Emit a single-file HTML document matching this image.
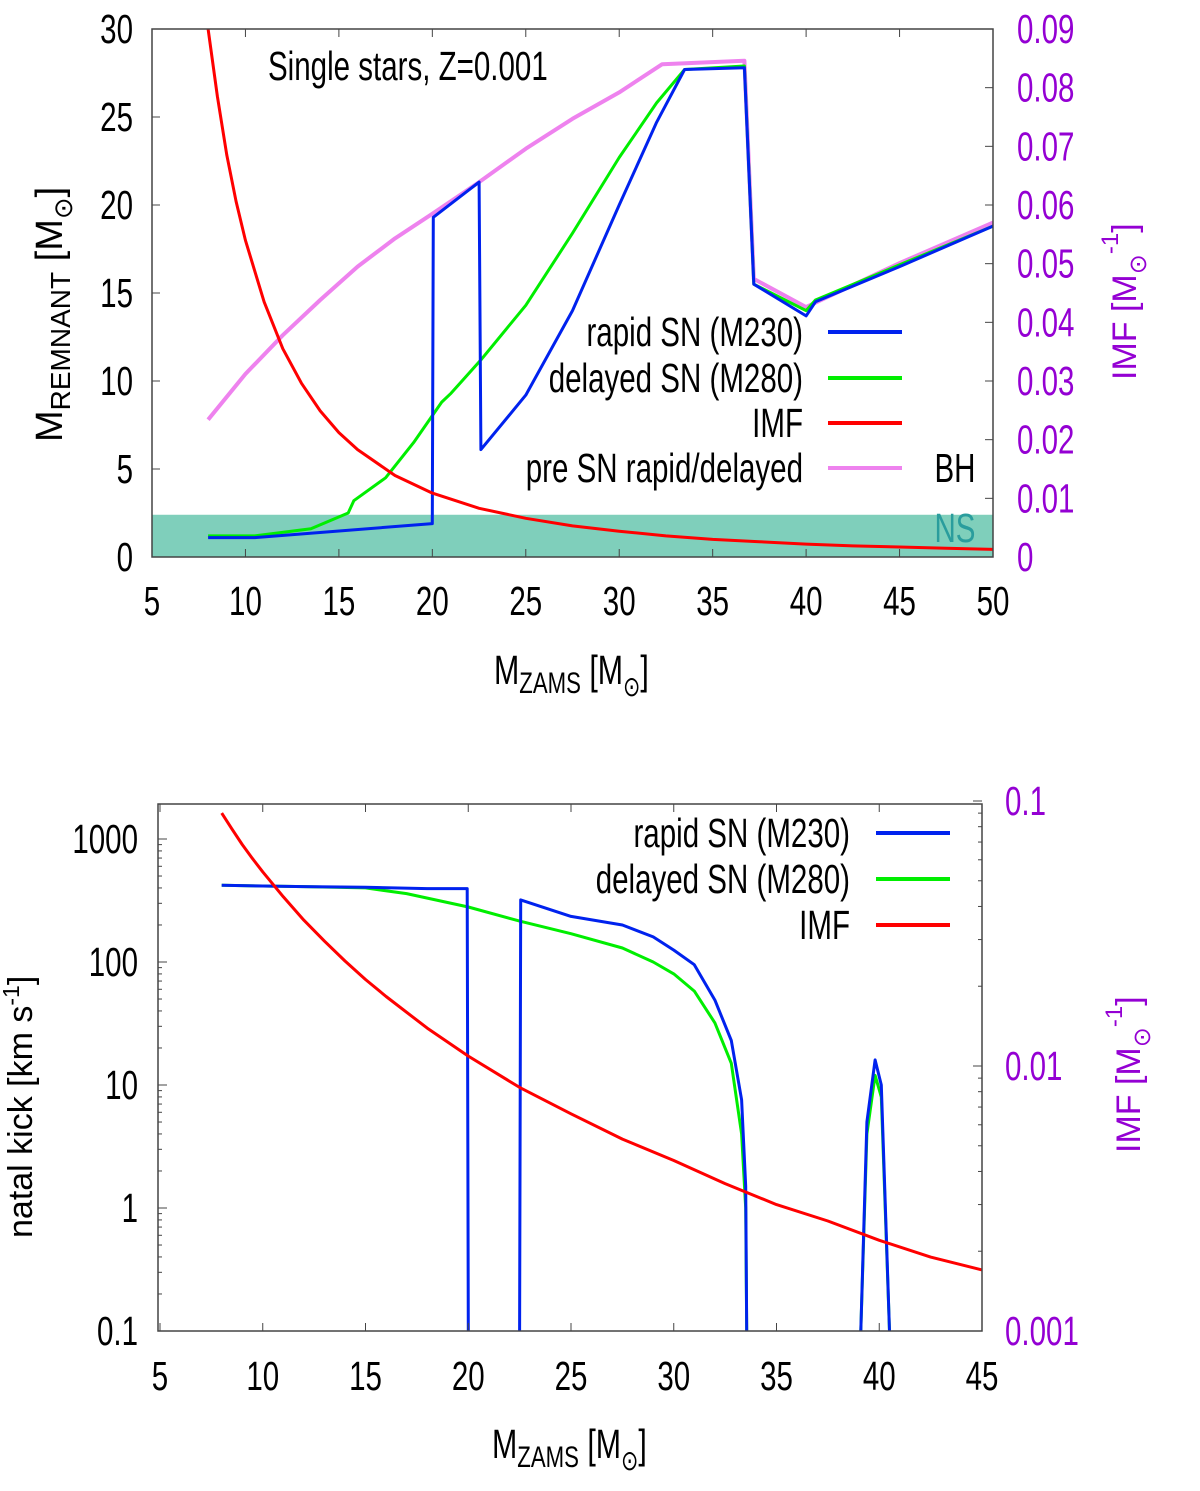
<!DOCTYPE html>
<html><head><meta charset="utf-8"><style>
body{margin:0;background:#fff}
svg text{font-family:"Liberation Sans",sans-serif}
</style></head><body>
<svg id="s" width="1200" height="1486" viewBox="0 0 1200 1486" xmlns="http://www.w3.org/2000/svg"></svg>
<script>
// ---- data ----
const imfMass = [8,8.5,9,9.5,10,11,12,13,14,15,16,18,20,22.5,25,27.5,30,32.5,35,37.5,40,42.5,45,47.5,50];
const imfVal = [0.090,0.0785,0.0685,0.0606,0.0540,0.0435,0.0355,0.0296,0.0249,0.0212,0.0183,0.0139,0.0109,0.0083,0.0066,0.0053,0.0044,0.0036,0.0030,0.0026,0.0022,0.0019,0.0017,0.0015,0.0013];
const rapidMass = [8,10.5,20,20.05,22.5,22.6,25,27.5,30,32,33.5,36.7,37.2,40,40.5,45,50];
const rapidRem = [1.1,1.1,1.9,19.3,21.3,6.1,9.2,14.0,20,24.7,27.7,27.8,15.5,13.7,14.5,16.5,18.8];
const delayedMass = [8,10.5,13.5,15.5,15.8,17.5,19,20.5,21,22.6,25,27.5,30,32,33.5,36.7,37.2,40,40.5,45,50];
const delayedRem = [1.2,1.2,1.6,2.5,3.2,4.5,6.5,8.8,9.3,11.2,14.3,18.4,22.7,25.8,27.7,27.9,15.5,14,14.6,16.6,18.8];
const preMass = [8,10,12,14,16,18,20,22.5,25,27.5,30,32.3,36.7,37.2,40,45,50];
const preRem = [7.8,10.4,12.6,14.6,16.5,18.1,19.5,21.3,23.2,24.9,26.4,28,28.2,15.8,14.2,16.7,19];
const nsMax = 2.4;
const kickRapidMass = [8,10,12,15,18,19.95,20,22.5,22.55,25,27.5,29,30,31,32,32.8,33.3,33.5,33.55,39.1,39.4,39.8,40.1,40.5];
const kickRapid = [420,415,410,405,395,395,0.1,0.1,320,235,200,160,125,95,49,23,7.6,1.5,0.1,0.1,5,16,10,0.1];
const kickDelMass = [8,10,12,15,17,20,22.5,25,27.5,29,30,31,32,32.8,33.3,33.5,33.55,39.1,39.4,39.8,40.1,40.5];
const kickDel = [420,415,410,400,360,280,215,170,130,100,80,58,32,15,4,1,0.1,0.1,4,12,8,0.1];
const topXTicks=[5,10,15,20,25,30,35,40,45,50];
const topYTicks=[0,5,10,15,20,25,30];
const topY2Ticks=[0,0.01,0.02,0.03,0.04,0.05,0.06,0.07,0.08,0.09];
const botXTicks=[5,10,15,20,25,30,35,40,45];
const botYTicks=[0.1,1,10,100,1000];
const botY2Ticks=[0.001,0.01,0.1];

const S=document.getElementById('s');const NS='http://www.w3.org/2000/svg';
function mk(t,a,txt){const e=document.createElementNS(NS,t);for(const k in a)e.setAttribute(k,a[k]);if(txt!==undefined)e.textContent=txt;S.appendChild(e);return e;}
const T={l:152,r:993,t:29,b:557};
const tx=m=>T.l+(m-5)/45*(T.r-T.l);
const ty=v=>T.b-v/30*(T.b-T.t);
const ty2=v=>T.b-v/0.09*(T.b-T.t);
const B={l:158,r:982,t:804,b:1331};
const bx=m=>160+(m-5)/40*(982-160);
const by=v=>1331-(Math.log10(v)+1)*123;
const by2=v=>1331-(Math.log10(v)+3)*265;

let e;
e=mk('rect',{x:T.l,y:ty(nsMax),width:T.r-T.l,height:T.b-ty(nsMax),fill:'#7fcfbb'});

function poly(xs,ys,fx,fy,col,w,name,floor){let d='';let pen=false;
 xs.forEach((m,i)=>{const X=fx(m).toFixed(1),Y=fy(ys[i]).toFixed(1);
  if(floor!==undefined&&i>0&&ys[i]<=floor&&ys[i-1]<=floor){pen=false;return;}
  if(!pen&&i>0){d+='M'+fx(xs[i-1]).toFixed(1)+','+fy(ys[i-1]).toFixed(1)+' ';pen=true;}
  d+=(pen?'L':'M')+X+','+Y+' ';pen=true;});
 const el=mk('path',{d:d,fill:'none',stroke:col,'stroke-width':w,'stroke-linejoin':'round'});
 }
poly(preMass,preRem,tx,ty,'#ee82ee',4,'pre-sn-line');
poly(delayedMass,delayedRem,tx,ty,'#00ee00',3,'delayed-sn-line');
poly(rapidMass,rapidRem,tx,ty,'#0022ee',3,'rapid-sn-line');
poly(imfMass,imfVal,tx,ty2,'#ff0000',3,'imf-line');
poly(kickDelMass,kickDel,bx,by,'#00ee00',3,'delayed-kick-line',0.1);
poly(kickRapidMass,kickRapid,bx,by,'#0022ee',3,'rapid-kick-line',0.1);
poly(imfMass.filter(m=>m<=45),imfVal.filter((v,i)=>imfMass[i]<=45),bx,by2,'#ff0000',3,'imf-kick-line');
e=mk('rect',{x:T.l,y:T.t,width:T.r-T.l,height:T.b-T.t,fill:'none',stroke:'#444','stroke-width':1.5});

e=mk('rect',{x:B.l,y:B.t,width:B.r-B.l,height:B.b-B.t,fill:'none',stroke:'#444','stroke-width':1.5});

function txt(x,y,s,anchor,size,col,name){const el=mk('text',{x:0,y:0,transform:'translate('+x+','+y+') scale(0.72,1)','text-anchor':anchor,'font-size':size,fill:col||'#000'},s);
 return el;}
function tick(x1,y1,x2,y2){mk('line',{x1,y1,x2,y2,stroke:'#444','stroke-width':1});}
topXTicks.forEach(v=>{tick(tx(v),T.b,tx(v),T.b-8);tick(tx(v),T.t,tx(v),T.t+8);txt(tx(v),615,String(v),'middle',41,'#000','x-tick-label');});
topYTicks.forEach(v=>{tick(T.l,ty(v),T.l+8,ty(v));txt(133,ty(v)+14,String(v),'end',41,'#000','y-tick-label');});
topY2Ticks.forEach(v=>{tick(T.r,ty2(v),T.r-8,ty2(v));txt(1017,ty2(v)+14,String(v),'start',41,'#9400d3','y2-tick-label');});
botXTicks.forEach(v=>{tick(bx(v),B.b,bx(v),B.b-8);tick(bx(v),B.t,bx(v),B.t+8);txt(bx(v),1390,String(v),'middle',41,'#000','x-tick-label');});
botYTicks.forEach(v=>{tick(B.l,by(v),B.l+9,by(v));txt(138,by(v)+14,String(v),'end',41,'#000','y-tick-label');
 for(let k=2;k<10;k++){const y=by(v*k);if(y>B.t)tick(B.l,y,B.l+4,y);}});
botY2Ticks.forEach(v=>{tick(B.r,by2(v),B.r-9,by2(v));txt(1005,by2(v)+14,String(v),'start',41,'#9400d3','y2-tick-label');
 for(let k=2;k<10;k++){const y=by2(v*k);if(y>B.t)tick(B.r,y,B.r-4,y);}});
txt(268,80,'Single stars, Z=0.001','start',41,'#000','plot-title');
const lgT=[['rapid SN (M230)','#0022ee',332],['delayed SN (M280)','#00ee00',378],['IMF','#ff0000',423],['pre SN rapid/delayed','#ee82ee',468]];
lgT.forEach(r=>{txt(803,r[2]+14,r[0],'end',41,'#000','legend-label');
 e=mk('line',{x1:828,y1:r[2],x2:902,y2:r[2],stroke:r[1],'stroke-width':4});});
txt(955,482,'BH','middle',41,'#000','bh-label');
txt(955,542,'NS','middle',41,'#2a9d9d','ns-label');
const lgB=[['rapid SN (M230)','#0022ee',833],['delayed SN (M280)','#00ee00',879],['IMF','#ff0000',925]];
lgB.forEach(r=>{txt(850,r[2]+14,r[0],'end',41,'#000','legend-label');
 e=mk('line',{x1:876,y1:r[2],x2:950,y2:r[2],stroke:r[1],'stroke-width':4});});
</script>
<svg width="1200" height="1486" style="position:absolute;left:0;top:0" xmlns="http://www.w3.org/2000/svg" font-family="Liberation Sans, sans-serif">
<text transform="translate(494,684) scale(0.74,1)" font-size="41">M<tspan font-size="30" dy="9">ZAMS</tspan><tspan dy="-9"> [M</tspan><tspan font-size="28" dy="12">⊙</tspan><tspan dy="-12">]</tspan></text>
<text transform="translate(62,442) rotate(-90)" font-size="38">M<tspan font-size="28" dy="8">REMNANT</tspan><tspan dy="-8"> [M</tspan><tspan font-size="26" dy="10">⊙</tspan><tspan dy="-10">]</tspan></text>
<text transform="translate(1136,380) rotate(-90)" font-size="34" fill="#9400d3">IMF [M<tspan font-size="24" dy="10">⊙</tspan><tspan font-size="24" dy="-28">-1</tspan><tspan dy="18">]</tspan></text>
<text transform="translate(492,1458) scale(0.74,1)" font-size="41">M<tspan font-size="30" dy="9">ZAMS</tspan><tspan dy="-9"> [M</tspan><tspan font-size="28" dy="12">⊙</tspan><tspan dy="-12">]</tspan></text>
<text transform="translate(32,1238) rotate(-90)" font-size="34">natal kick [km s<tspan font-size="23" dy="-13">-1</tspan><tspan dy="13">]</tspan></text>
<text transform="translate(1140,1153) rotate(-90)" font-size="34" fill="#9400d3">IMF [M<tspan font-size="24" dy="10">⊙</tspan><tspan font-size="24" dy="-28">-1</tspan><tspan dy="18">]</tspan></text>
</svg>
</body></html>
